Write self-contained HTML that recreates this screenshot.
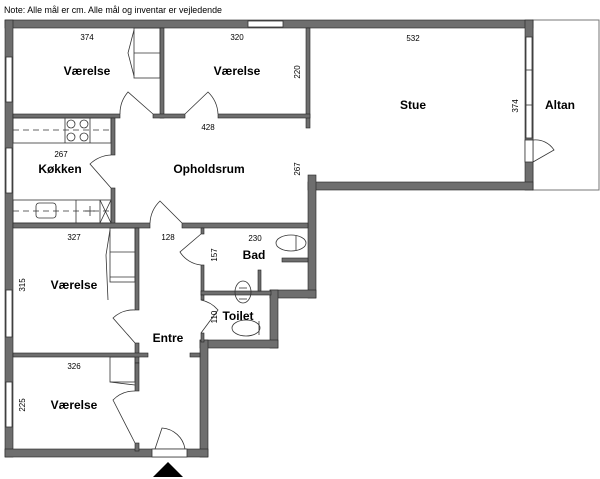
<!DOCTYPE html>
<html><head><style>body{margin:0;background:#fff}svg{display:block}text{font-family:"Liberation Sans",sans-serif}</style></head><body>
<svg width="600" height="479" viewBox="0 0 600 479" xmlns="http://www.w3.org/2000/svg">
<text x="4" y="13" font-size="9" textLength="218" lengthAdjust="spacingAndGlyphs">Note: Alle mål er cm. Alle mål og inventar er vejledende</text>
<rect x="533" y="20" width="66" height="170" fill="#fff" stroke="#777" stroke-width="1"/>
<g fill="#6e6e6e" stroke="#222" stroke-width="0.6">
<rect x="5" y="20" width="528" height="8"/>
<rect x="5" y="20" width="8" height="437"/>
<rect x="525" y="20" width="8" height="170"/>
<rect x="308" y="182" width="225" height="8"/>
<rect x="308" y="175" width="8" height="123"/>
<rect x="270" y="290" width="46" height="8"/>
<rect x="270" y="290" width="8" height="58"/>
<rect x="200" y="340" width="78" height="8"/>
<rect x="200" y="340" width="8" height="117"/>
<rect x="5" y="449" width="203" height="8"/>
<rect x="160" y="28" width="4" height="90"/>
<rect x="306" y="28" width="4" height="100"/>
<rect x="13" y="114" width="107" height="4"/>
<rect x="153" y="114" width="32" height="4"/>
<rect x="218" y="114" width="92" height="4"/>
<rect x="111" y="118" width="4" height="37"/>
<rect x="111" y="188" width="4" height="40"/>
<rect x="13" y="223" width="137" height="5"/>
<rect x="182" y="223" width="126" height="5"/>
<rect x="135" y="228" width="4" height="82"/>
<rect x="135" y="343" width="4" height="20"/>
<rect x="13" y="353" width="135" height="4"/>
<rect x="190" y="353" width="10" height="4"/>
<rect x="135" y="363" width="4" height="28"/>
<rect x="135" y="443" width="4" height="8"/>
<rect x="201" y="228" width="3" height="6"/>
<rect x="201" y="265" width="3" height="30"/>
<rect x="201" y="291" width="70" height="4"/>
<rect x="201" y="295" width="3" height="5"/>
<rect x="201" y="333" width="3" height="9"/>
<rect x="258" y="270" width="3" height="21"/>
<rect x="282" y="258" width="26" height="4"/>
</g>
<g fill="#fff" stroke="#333" stroke-width="0.8">
<rect x="6" y="57" width="6" height="45"/>
<rect x="6" y="148" width="6" height="45"/>
<rect x="6" y="290" width="6" height="47"/>
<rect x="6" y="382" width="6" height="45"/>
<rect x="248" y="21" width="35" height="6"/>
<rect x="526" y="37" width="6" height="101"/>
<rect x="525" y="140" width="8" height="22"/>
<rect x="152" y="449" width="35" height="8"/>
</g>
<g fill="none" stroke="#333" stroke-width="0.8">
<line x1="526" y1="70" x2="532" y2="70"/><line x1="526" y1="105" x2="532" y2="105"/>
<rect x="134" y="28" width="26" height="50"/><line x1="134" y1="53" x2="160" y2="53"/>
<path d="M134 30 L128 53 L134 76"/>
<path d="M120 114 A33 33 0 0 1 128 92 L153 114"/>
<path d="M185 114 L208 92 A33 33 0 0 1 218 114"/>
<path d="M111 155 A33 33 0 0 0 90 164 L111 188"/>
<path d="M150 223 A33 33 0 0 1 160 201 L182 223"/>
<path d="M201 234 L180 252 A28 28 0 0 0 201 265"/>
<path d="M201 300 A30 30 0 0 1 218 310 L201 333"/>
<path d="M135 310 A30 30 0 0 0 113 318 L135 343"/>
<path d="M135 391 A30 30 0 0 0 113 400 L135 443"/>
<path d="M155 449 L162 428 A25 25 0 0 1 185 449"/>
<path d="M533 162 L554 150 A22 22 0 0 0 533 140"/>
<rect x="13" y="118" width="98" height="25"/><line x1="65" y1="118" x2="65" y2="143"/><line x1="90" y1="118" x2="90" y2="143"/>
<circle cx="71" cy="124" r="4"/><circle cx="84" cy="124" r="4"/><circle cx="71" cy="137" r="4"/><circle cx="84" cy="137" r="4"/>
<rect x="13" y="200" width="98" height="23"/><line x1="76" y1="200" x2="76" y2="223"/><line x1="100" y1="200" x2="100" y2="223"/>
<rect x="36" y="203" width="20" height="15" rx="3"/>
<path d="M100 200 L111 223 M111 200 L100 223 M85 211 L95 211 M90 206 L90 216"/>
<line x1="13" y1="130" x2="111" y2="130" stroke-dasharray="6,4"/>
<line x1="13" y1="211" x2="111" y2="211" stroke-dasharray="6,4"/>
<rect x="110" y="228" width="25" height="54"/><line x1="110" y1="252" x2="135" y2="252"/><line x1="110" y1="277" x2="135" y2="277"/>
<path d="M110 230 L106 255 L108 300"/>
<rect x="110" y="357" width="25" height="25"/><path d="M110 382 L135 385"/>
<ellipse cx="291" cy="243" rx="15" ry="8"/><line x1="296" y1="236" x2="296" y2="250"/>
<ellipse cx="246" cy="328" rx="14" ry="8"/><line x1="259" y1="321" x2="259" y2="335"/>
<ellipse cx="243" cy="292" rx="8" ry="11"/><line x1="239" y1="288" x2="247" y2="288"/><line x1="239" y1="299" x2="247" y2="299"/>
</g>
<polygon points="153,477 168,462 183,477" fill="#000"/>
<g font-size="12" font-weight="bold" text-anchor="middle">
<text x="87" y="75">Værelse</text><text x="237" y="75">Værelse</text>
<text x="413" y="109">Stue</text><text x="560" y="109">Altan</text>
<text x="60" y="173">Køkken</text><text x="209" y="173">Opholdsrum</text>
<text x="74" y="289">Værelse</text><text x="74" y="409">Værelse</text>
<text x="254" y="259">Bad</text><text x="238" y="320">Toilet</text>
<text x="168" y="342">Entre</text>
</g>
<g font-size="8" text-anchor="middle">
<text x="87" y="40">374</text><text x="237" y="40">320</text><text x="413" y="41">532</text>
<text x="208" y="130">428</text><text x="61" y="157">267</text>
<text x="74" y="240">327</text><text x="168" y="240">128</text><text x="255" y="241">230</text>
<text x="74" y="369">326</text>
<text transform="translate(300,72) rotate(-90)">220</text>
<text transform="translate(518,106) rotate(-90)">374</text>
<text transform="translate(300,169) rotate(-90)">267</text>
<text transform="translate(25,285) rotate(-90)">315</text>
<text transform="translate(25,405) rotate(-90)">225</text>
<text transform="translate(217,255) rotate(-90)">157</text>
<text transform="translate(217,317) rotate(-90)">110</text>
</g>
</svg>
</body></html>
